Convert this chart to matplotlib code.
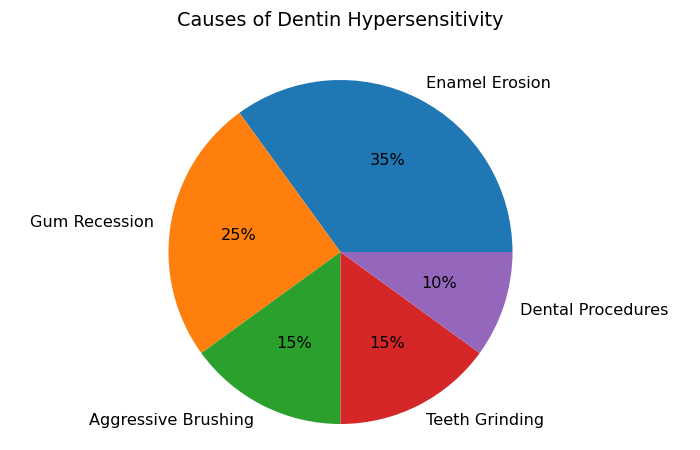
import matplotlib
matplotlib.use("Agg")
import matplotlib.pyplot as plt

labels = ["Enamel Erosion", "Gum Recession", "Aggressive Brushing", "Teeth Grinding", "Dental Procedures"]
values = [35, 25, 15, 15, 10]

W, H = 700, 450
fig = plt.figure(figsize=(7, 4.5), dpi=100)
r = 172.0
cx, cy = 340.5, 252.0
side = 2.5 * r
ax = fig.add_axes([(cx - side / 2) / W, (H - cy - side / 2) / H, side / W, side / H])
ax.pie(values, labels=labels, autopct='%1.0f%%', textprops={'fontsize': 11.6})
fig.text(340 / W, 1 - 21 / H, "Causes of Dentin Hypersensitivity", ha='center', va='center', fontsize=13.9)
fig.savefig("out.png")
